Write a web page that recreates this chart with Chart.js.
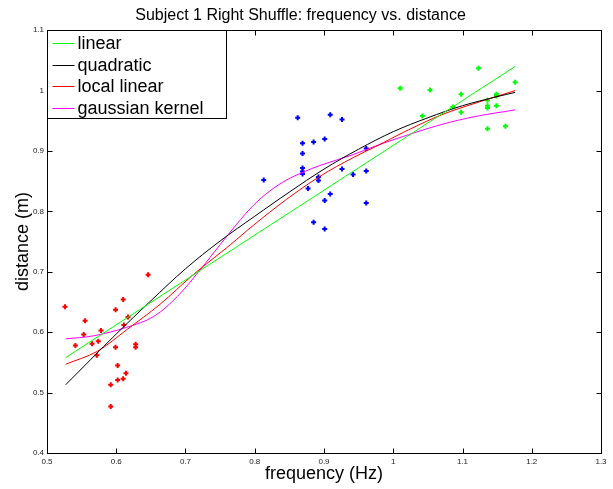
<!DOCTYPE html>
<html>
<head>
<meta charset="utf-8">
<script src="https://cdn.jsdelivr.net/npm/chart.js@4/dist/chart.umd.min.js"></script>
<style>
  body { margin: 0; background: #fff; }
</style>
</head>
<body>
<canvas id="freqChart" width="613" height="489"></canvas>
<script>
// measured points, one colour per speed group
const redFreq = [0.526, 0.541, 0.555, 0.553, 0.565, 0.578, 0.574, 0.572, 0.599, 0.610, 0.617, 0.611, 0.599, 0.602, 0.614, 0.610, 0.602, 0.592, 0.592, 0.628, 0.628, 0.646];
const redDist = [0.642, 0.578, 0.619, 0.596, 0.581, 0.603, 0.585, 0.562, 0.637, 0.654, 0.625, 0.612, 0.575, 0.545, 0.532, 0.523, 0.521, 0.513, 0.477, 0.580, 0.575, 0.695];

const blueFreq = [0.862, 0.909, 0.926, 0.869, 0.885, 0.901, 0.869, 0.961, 0.869, 0.869, 0.869, 0.926, 0.813, 0.892, 0.892, 0.942, 0.961, 0.877, 0.909, 0.901, 0.961, 0.885, 0.901];
const blueDist = [0.955, 0.960, 0.952, 0.913, 0.915, 0.920, 0.896, 0.904, 0.872, 0.866, 0.862, 0.870, 0.852, 0.857, 0.851, 0.861, 0.867, 0.838, 0.829, 0.818, 0.814, 0.782, 0.771];

const greenFreq = [1.010, 1.053, 1.123, 1.098, 1.176, 1.149, 1.149, 1.136, 1.086, 1.136, 1.136, 1.149, 1.098, 1.042, 1.162, 1.136];
const greenDist = [1.004, 1.001, 1.037, 0.994, 1.014, 0.994, 0.991, 0.984, 0.973, 0.975, 0.971, 0.975, 0.964, 0.958, 0.941, 0.937];

// fitted curves
const linearFreq = [0.527, 1.176];
const linearDist = [0.558, 1.040];

const quadFreq = [0.527, 0.60, 0.65, 0.70, 0.75, 0.80, 0.85, 0.90, 0.95, 1.00, 1.05, 1.10, 1.15, 1.176];
const quadDist = [0.513, 0.597, 0.652, 0.705, 0.751, 0.792, 0.832, 0.870, 0.903, 0.932, 0.955, 0.975, 0.990, 0.997];

const localFreq = [0.527, 0.572, 0.615, 0.663, 0.712, 0.765, 0.798, 0.846, 0.894, 0.942, 0.974, 1.022, 1.070, 1.118, 1.176];
const localDist = [0.547, 0.568, 0.604, 0.646, 0.696, 0.745, 0.777, 0.820, 0.858, 0.889, 0.907, 0.935, 0.960, 0.979, 1.000];

const gaussFreq = [0.527, 0.567, 0.615, 0.654, 0.688, 0.721, 0.750, 0.774, 0.798, 0.822, 0.846, 0.870, 0.894, 0.942, 0.974, 1.022, 1.070, 1.118, 1.176];
const gaussDist = [0.589, 0.594, 0.608, 0.626, 0.659, 0.703, 0.745, 0.779, 0.810, 0.834, 0.852, 0.865, 0.876, 0.894, 0.908, 0.927, 0.944, 0.957, 0.968];

const xTicks = [0.5, 0.6, 0.7, 0.8, 0.9, 1.0, 1.1, 1.2, 1.3];
const yTicks = [0.4, 0.5, 0.6, 0.7, 0.8, 0.9, 1.0, 1.1];

const FONT = 'Liberation Sans, Arial, Helvetica, sans-serif';

function pts(xs, ys) {
	return xs.map((x, i) => ({ x: x, y: ys[i] }));
}
function fmt(v) {
	return String(Number(v.toFixed(1)));
}

function curve(label, xs, ys, color) {
	return {
		label: label,
		data: pts(xs, ys),
		showLine: true,
		borderColor: color,
		borderWidth: 1,
		pointRadius: 0,
		fill: false,
		tension: 0.35,
		isCurve: true
	};
}
function marks(xs, ys, color) {
	return {
		label: '',
		data: pts(xs, ys),
		showLine: false,
		pointStyle: 'cross',
		pointRadius: 2.5,
		borderWidth: 2,
		borderColor: color,
		backgroundColor: color
	};
}

// matlab style box with inward ticks + legend in the corner
const boxPlugin = {
	id: 'matlabBox',
	beforeDraw(chart) {
		const c = chart.ctx;
		c.save();
		c.fillStyle = '#fff';
		c.fillRect(0, 0, chart.width, chart.height);
		c.restore();
	},
	afterDatasetsDraw(chart) {
		const c = chart.ctx;
		const a = chart.chartArea;
		const L = Math.round(a.left) + 0.5, R = Math.round(a.right) + 0.5;
		const T = Math.round(a.top) + 0.5, B = Math.round(a.bottom) + 0.5;
		c.save();
		c.strokeStyle = '#000';
		c.lineWidth = 1;
		c.strokeRect(L, T, R - L, B - T);
		c.beginPath();
		chart.scales.x.ticks.forEach(t => {
			const px = Math.round(chart.scales.x.getPixelForValue(t.value)) + 0.5;
			c.moveTo(px, B); c.lineTo(px, B - 5);
			c.moveTo(px, T); c.lineTo(px, T + 5);
		});
		chart.scales.y.ticks.forEach(t => {
			const py = Math.round(chart.scales.y.getPixelForValue(t.value)) + 0.5;
			c.moveTo(L, py); c.lineTo(L + 5, py);
			c.moveTo(R, py); c.lineTo(R - 5, py);
		});
		c.stroke();
		c.restore();
	},
	afterDraw(chart) {
		const c = chart.ctx;
		const a = chart.chartArea;
		const items = chart.data.datasets.filter(d => d.isCurve);
		const x0 = Math.round(a.left) + 0.5, y0 = Math.round(a.top) + 0.5;
		const w = 179, rowH = 21.7, h = 88;
		c.save();
		c.fillStyle = '#fff';
		c.fillRect(x0, y0, w, h);
		c.strokeStyle = '#000';
		c.lineWidth = 1;
		c.strokeRect(x0, y0, w, h);
		c.font = '18px ' + FONT;
		c.textBaseline = 'middle';
		c.textAlign = 'left';
		items.forEach((d, i) => {
			const y = y0 + 12.5 + i * rowH;
			c.strokeStyle = d.borderColor;
			c.beginPath();
			c.moveTo(x0 + 5, Math.round(y) + 0.5);
			c.lineTo(x0 + 27, Math.round(y) + 0.5);
			c.stroke();
			c.fillStyle = '#000';
			c.fillText(d.label, x0 + 30, y + 1);
		});
		c.restore();
	}
};

const crt = document.getElementById('freqChart');
new Chart(crt, {
	type: 'scatter',
	data: {
		datasets: [
			curve('linear', linearFreq, linearDist, '#00ff00'),
			curve('quadratic', quadFreq, quadDist, '#000000'),
			curve('local linear', localFreq, localDist, '#ff0000'),
			curve('gaussian kernel', gaussFreq, gaussDist, '#ff00ff'),
			marks(redFreq, redDist, '#ff0000'),
			marks(blueFreq, blueDist, '#0000ff'),
			marks(greenFreq, greenDist, '#00ff00')
		]
	},
	options: {
		responsive: false,
		animation: false,
		layout: { padding: { left: 0, right: 12, top: 0, bottom: 0 } },
		plugins: {
			legend: { display: false },
			tooltip: { enabled: false },
			title: {
				display: true,
				text: 'Subject 1 Right Shuffle: frequency vs. distance',
				color: '#000',
				font: { family: FONT, size: 16, weight: 'normal' },
				padding: { top: 6, bottom: 5 }
			}
		},
		scales: {
			x: {
				type: 'linear',
				min: 0.5,
				max: 1.3,
				afterBuildTicks: s => { s.ticks = xTicks.map(v => ({ value: v })); },
				afterFit: s => { s.height = 36; },
				grid: { display: false, drawTicks: false },
				border: { display: false },
				ticks: {
					autoSkip: false,
					maxRotation: 0,
					padding: 4,
					color: '#222',
					font: { family: FONT, size: 8 },
					callback: v => fmt(v)
				},
				title: {
					display: true,
					text: 'frequency (Hz)',
					color: '#000',
					font: { family: FONT, size: 18 },
					padding: { top: 0, bottom: 4 }
				}
			},
			y: {
				type: 'linear',
				min: 0.4,
				max: 1.1,
				afterBuildTicks: s => { s.ticks = yTicks.map(v => ({ value: v })); },
				afterFit: s => { s.width = 47; },
				grid: { display: false, drawTicks: false },
				border: { display: false },
				ticks: {
					autoSkip: false,
					padding: 3,
					color: '#222',
					font: { family: FONT, size: 8 },
					callback: v => fmt(v)
				},
				title: {
					display: true,
					text: 'distance (m)',
					color: '#000',
					font: { family: FONT, size: 18 },
					padding: { top: 12, bottom: 0 }
				}
			}
		}
	},
	plugins: [boxPlugin]
});
</script>
</body>
</html>
